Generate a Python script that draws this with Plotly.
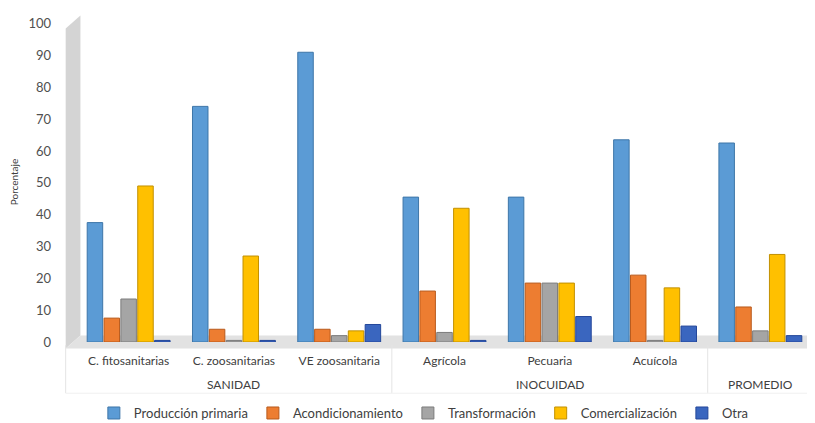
import plotly.graph_objects as go

group_names = ["SANIDAD", "INOCUIDAD", "PROMEDIO"]
group_sizes = [3, 3, 1]
categories = ["C. fitosanitarias", "C. zoosanitarias", "VE zoosanitaria", "Agrícola", "Pecuaria", "Acuícola", " "]

series_names = ["Producción primaria", "Acondicionamiento", "Transformación", "Comercialización", "Otra"]
produccion_primaria = [37.5, 74, 91, 45.5, 45.5, 63.5, 62.5]
acondicionamiento = [7.5, 4, 4, 16, 18.5, 21, 11]
transformacion = [13.5, 0.5, 2, 3, 18.5, 0.5, 3.5]
comercializacion = [49, 27, 3.5, 42, 18.5, 17, 27.5]
otra = [0.5, 0.5, 5.5, 0.5, 8, 5, 2]

y_ticks = [0, 10, 20, 30, 40, 50, 60, 70, 80, 90, 100]

values = [produccion_primaria, acondicionamiento, transformacion, comercializacion, otra]
fill_colors = ["#5B9BD5", "#ED7D31", "#A5A5A5", "#FFC000", "#3A66BF"]
line_colors = ["#3E76A8", "#B85A1C", "#7C7C7C", "#C29000", "#24479A"]

fig = go.Figure()
for name, vals, fc, lc in zip(series_names, values, fill_colors, line_colors):
    fig.add_trace(go.Bar(
        x=categories, y=vals, name=name,
        marker=dict(color=fc, line=dict(color=lc, width=1)),
    ))

# pseudo-3D wall and floor
fig.add_shape(type="path", xref="paper", yref="paper",
              path="M -0.014,-0.02 L -0.014,0.98 L 0.006,1.02 L 0.006,0.02 Z",
              fillcolor="#D4D4D4", line=dict(width=0), layer="below")
fig.add_shape(type="path", xref="paper", yref="paper",
              path="M -0.014,-0.02 L 1.0,-0.02 L 1.0,0.02 L 0.006,0.02 Z",
              fillcolor="#E2E2E2", line=dict(width=0), layer="below")

# group labels and dividers of the two-level category axis
n = len(categories)
start = 0
divider_color = "#E4E4E4"
fig.add_shape(type="line", xref="paper", yref="paper", x0=-0.014, x1=-0.014, y0=-0.01, y1=-0.16,
              line=dict(color=divider_color, width=1))
for gname, gsize in zip(group_names, group_sizes):
    end = start + gsize
    fig.add_annotation(text=gname, xref="paper", yref="paper",
                       x=(start + end) / 2 / n, y=-0.134, xanchor="center", yanchor="middle",
                       showarrow=False, font=dict(size=12, color="#404040"))
    fig.add_shape(type="line", xref="paper", yref="paper", x0=end / n, x1=end / n,
                  y0=-0.01, y1=-0.16, line=dict(color=divider_color, width=1))
    start = end
fig.add_shape(type="line", xref="paper", yref="paper", x0=-0.014, x1=1, y0=-0.16, y1=-0.16,
              line=dict(color="#F0F0F0", width=1))

# the page body adds an 8px margin, so the figure is 8px smaller than the window
fig.update_layout(
    width=807, height=415,
    margin=dict(l=68, r=2, t=14, b=81, autoexpand=False),
    paper_bgcolor="white", plot_bgcolor="white",
    font=dict(family="Lato, Open Sans, sans-serif", color="#404040"),
    barmode="group", bargap=0.2, bargroupgap=0.08,
    showlegend=True,
    legend=dict(orientation="h", x=0.472, xanchor="center",
                y=-0.222, yanchor="middle",
                font=dict(size=13, color="#404040"), itemwidth=30, traceorder="normal"),
    xaxis=dict(type="category", showgrid=False, zeroline=False,
               tickfont=dict(size=12, color="#404040"), showline=False,
               ticks="", ticklabelstandoff=10, tickangle=0, automargin=False),
    yaxis=dict(range=[0, 100.5], tickvals=y_ticks, showgrid=False, zeroline=False,
               showline=False, tickfont=dict(size=13, color="#505050"),
               ticks="", ticklabelstandoff=24, automargin=False,
               title=dict(text="Porcentaje", font=dict(size=10, color="#404040"), standoff=12)),
)

fig.write_html("out.html")
